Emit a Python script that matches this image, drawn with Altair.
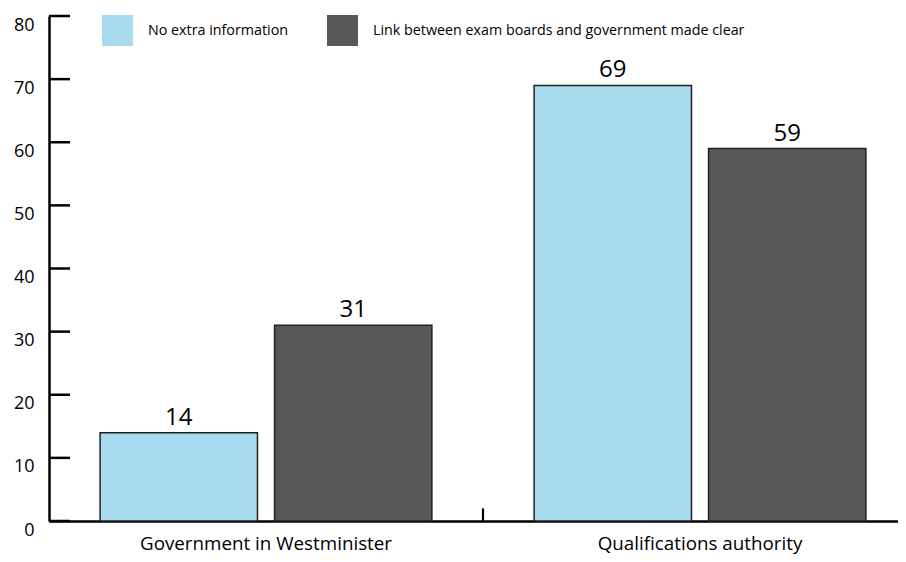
import altair as alt
import pandas as pd

categories = ["Government in Westminister", "Qualifications authority"]
series = ["No extra information", "Link between exam boards and government made clear"]
no_extra_info = [14, 69]
link_made_clear = [31, 59]
y_tick_values = [0, 10, 20, 30, 40, 50, 60, 70, 80]
series_colors = ["#a8dbee", "#58585a"]

rows = []
for i, c in enumerate(categories):
    rows.append({"category": c, "series": series[0], "value": no_extra_info[i]})
    rows.append({"category": c, "series": series[1], "value": link_made_clear[i]})
df = pd.DataFrame(rows)
ticks_df = pd.DataFrame({"value": y_tick_values})
boundary_df = pd.DataFrame({"category": categories[1:]})

FONT = "Open Sans"

# the original is cropped on the right: the band range runs past the visible plot edge
x_scale = alt.Scale(domain=categories, paddingInner=0, paddingOuter=0, range=[0, 868])
xoff_scale = alt.Scale(domain=series, paddingInner=0.0977, paddingOuter=0.293)
y_scale = alt.Scale(domain=[0, 80], nice=False, zero=True)

x_axis = alt.Axis(title=None, labelAngle=0, ticks=False, domainWidth=2.5,
                  domainColor="#000", labelFontSize=18.8, labelFont=FONT,
                  labelColor="#000", labelPadding=13, labelLimit=1000)
y_axis = alt.Axis(title=None, values=y_tick_values, ticks=False, grid=False,
                  domainWidth=2.5, domainColor="#000", labelFontSize=18,
                  labelFont=FONT, labelColor="#000", labelPadding=15,
                  labelOffset=9)

x_enc = alt.X("category:N", scale=x_scale, sort=categories, axis=x_axis)
xoff_enc = alt.XOffset("series:N", scale=xoff_scale, sort=series)
y_enc = alt.Y("value:Q", scale=y_scale, axis=y_axis)

base = alt.Chart(df)

bars = base.mark_bar(stroke="#231f20", strokeWidth=1.5).encode(
    x=x_enc,
    xOffset=xoff_enc,
    y=y_enc,
    color=alt.Color("series:N", sort=series,
                    scale=alt.Scale(domain=series, range=series_colors),
                    legend=alt.Legend(title=None, orient="none", legendX=53, legendY=-1,
                                      direction="horizontal", symbolType="square",
                                      symbolSize=961, symbolStrokeWidth=0,
                                      symbolOpacity=1, labelLimit=1000,
                                      labelFontSize=14.3, labelFont=FONT, labelColor="#000",
                                      labelOffset=15, columnPadding=38, padding=0)),
)

labels = base.mark_text(baseline="bottom", dy=-3, fontSize=24, font=FONT, color="#000").encode(
    x=x_enc,
    xOffset=xoff_enc,
    y=y_enc,
    text=alt.Text("value:Q"),
)

yticks = alt.Chart(ticks_df).mark_rule(color="#000", strokeWidth=2.5).encode(
    y=y_enc,
    x=alt.value(0),
    x2=alt.value(21),
)

mid_tick = alt.Chart(boundary_df).mark_rule(color="#000", strokeWidth=2.2).encode(
    x=alt.X("category:N", bandPosition=0, scale=x_scale, sort=categories, axis=x_axis),
    y=alt.datum(0, axis=y_axis),
    y2=alt.datum(2),
)

chart = alt.layer(bars, labels, yticks, mid_tick).properties(
    width=849, height=505,
    autosize=alt.AutoSizeParams(type="none"),
    padding={"left": 41, "top": 8, "right": 0, "bottom": 33},
).configure_view(stroke=None)

chart.save("out.html", embed_options={"renderer": "svg", "actions": False})
